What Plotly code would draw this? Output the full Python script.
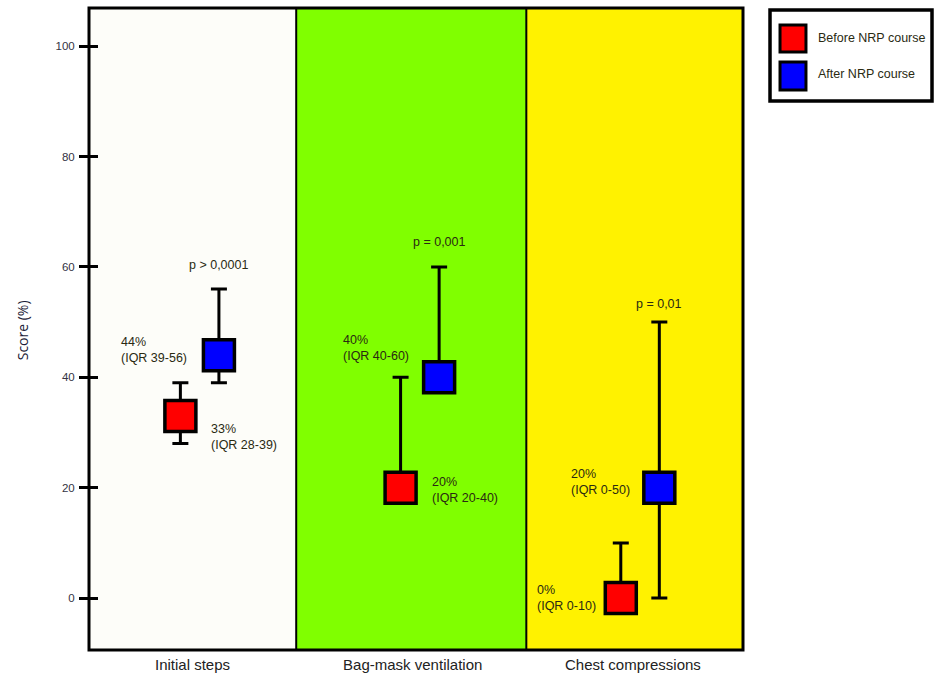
import plotly.graph_objects as go

# ---- data ----
categories = ["Initial steps", "Bag-mask ventilation", "Chest compressions"]
series_names = ["Before NRP course", "After NRP course"]
before_median = [33, 20, 0]
before_q1 = [28, 20, 0]
before_q3 = [39, 40, 10]
after_median = [44, 40, 20]
after_q1 = [39, 40, 0]
after_q3 = [56, 60, 50]
p_values = ["p > 0,0001", "p = 0,001", "p = 0,01"]
before_labels = ["33%<br>(IQR 28-39)", "20%<br>(IQR 20-40)", "0%<br>(IQR 0-10)"]
after_labels = ["44%<br>(IQR 39-56)", "40%<br>(IQR 40-60)", "20%<br>(IQR 0-50)"]
y_ticks = [0, 20, 40, 60, 80, 100]

# ---- styling ----
panel_colors = ["#fdfdf9", "#80ff00", "#fff200"]
series_colors = ["#ff0000", "#0000ff"]
offsets = [-0.055, 0.12]
x_range = [-0.47, 2.5]
panel_edges = [-0.47, 0.471, 1.516, 2.5]
y_range = [-9.4, 106.9]
txt_color = "#2a2a12"
font_main = "Liberation Sans, Arial, sans-serif"

idx = list(range(len(categories)))

fig = go.Figure()

for s, (med, q1, q3) in enumerate([(before_median, before_q1, before_q3),
                                    (after_median, after_q1, after_q3)]):
    fig.add_trace(go.Scatter(
        x=[i + offsets[s] for i in idx],
        y=med,
        mode="markers",
        name=series_names[s],
        showlegend=False,
        marker=dict(symbol="square", size=31, color=series_colors[s],
                    line=dict(color="black", width=3.5)),
        error_y=dict(type="data", symmetric=False,
                     array=[h - m for h, m in zip(q3, med)],
                     arrayminus=[m - l for m, l in zip(med, q1)],
                     color="black", thickness=3, width=8),
        hoverinfo="skip",
    ))

shapes = []
# panel backgrounds
for i in idx:
    shapes.append(dict(type="rect", xref="x", yref="paper",
                       x0=panel_edges[i], x1=panel_edges[i + 1], y0=0, y1=1,
                       fillcolor=panel_colors[i], line=dict(width=0), layer="below"))
# panel dividers
for e in panel_edges[1:-1]:
    shapes.append(dict(type="line", xref="x", yref="paper", x0=e, x1=e, y0=0, y1=1,
                       line=dict(color="black", width=2), layer="above"))
# outer frame
shapes.append(dict(type="rect", xref="paper", yref="paper", x0=0, x1=1, y0=0, y1=1,
                   line=dict(color="black", width=3), layer="above"))

# manual legend
shapes.append(dict(type="rect", xref="paper", yref="paper", x0=1.0413, x1=1.289, y0=0.8551, y1=0.9969,
                   line=dict(color="black", width=3.5), fillcolor="white"))
leg_sq_y = [(0.9315, 0.9735), (0.8723, 0.9159)]
leg_txt_y = [0.9533, 0.8972]
for s in range(2):
    shapes.append(dict(type="rect", xref="paper", yref="paper", x0=1.0566, x1=1.0963,
                       y0=leg_sq_y[s][0], y1=leg_sq_y[s][1],
                       fillcolor=series_colors[s], line=dict(color="black", width=3)))

annotations = []
for s in range(2):
    annotations.append(dict(xref="paper", yref="paper", x=1.1116, y=leg_txt_y[s],
                            text=series_names[s], showarrow=False, xanchor="left", yanchor="middle",
                            font=dict(family=font_main, size=12.5, color=txt_color)))

# value labels
before_shift = [(29, -21), (29, -2), (-23, 0)]
after_shift = [(-30, 5), (-28, 29), (-27, 6)]
p_shift = [24, 25, 18]
ann_font = dict(family=font_main, size=12.5, color=txt_color)
for i in idx:
    bx, by = before_shift[i]
    annotations.append(dict(x=i + offsets[0], y=before_median[i], xref="x", yref="y",
                            text=before_labels[i], showarrow=False, align="left",
                            xanchor="left" if bx > 0 else "right", yanchor="middle",
                            xshift=bx, yshift=by, font=ann_font))
    ax, ay = after_shift[i]
    annotations.append(dict(x=i + offsets[1], y=after_median[i], xref="x", yref="y",
                            text=after_labels[i], showarrow=False, align="left",
                            xanchor="left" if ax > 0 else "right", yanchor="middle",
                            xshift=ax, yshift=ay, font=ann_font))
    annotations.append(dict(x=i + offsets[1], y=after_q3[i], xref="x", yref="y",
                            text=p_values[i], showarrow=False, xanchor="center", yanchor="middle",
                            yshift=p_shift[i], font=ann_font))

# y-axis title
annotations.append(dict(xref="paper", yref="paper", x=0, y=0.498, xshift=-67,
                        text="Score (%)", textangle=-90, showarrow=False,
                        xanchor="center", yanchor="middle",
                        font=dict(family="Open Sans, Arial, sans-serif", size=14, color="#1c1c38")))

fig.update_layout(
    width=935, height=676,
    margin=dict(l=89, r=192, t=8, b=26, autoexpand=False),
    paper_bgcolor="white",
    plot_bgcolor="white",
    showlegend=False,
    shapes=shapes,
    annotations=annotations,
    xaxis=dict(range=x_range, tickvals=idx, ticktext=categories, ticks="", automargin=False,
               showgrid=False, zeroline=False, showline=False, ticklabelstandoff=4,
               tickfont=dict(family=font_main, size=15, color="#222222")),
    yaxis=dict(range=y_range, tickvals=y_ticks, ticks="outside", ticklen=9, tickwidth=3,
               tickcolor="black", showgrid=False, zeroline=False, showline=False,
               ticklabelstandoff=2, automargin=False,
               tickfont=dict(family=font_main, size=11.5, color="#333344")),
    yaxis2=dict(range=y_range, tickvals=y_ticks, ticks="inside", ticklen=9, tickwidth=3,
                tickcolor="black", overlaying="y", side="left", anchor="x", automargin=False,
                showticklabels=False, showgrid=False, zeroline=False, showline=False),
)
# dummy trace to activate yaxis2
fig.add_trace(go.Scatter(x=[None], y=[None], yaxis="y2", showlegend=False, hoverinfo="skip"))

fig.write_html("out.html", config={"displayModeBar": False},
               post_script="document.body.style.margin='0px';document.body.style.overflow='hidden';")
